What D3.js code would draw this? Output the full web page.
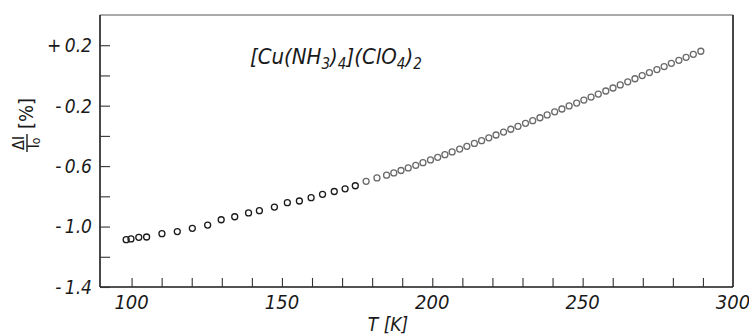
<!DOCTYPE html>
<html>
<head>
<meta charset="utf-8">
<script src="https://cdn.jsdelivr.net/npm/d3@7"></script>
<style>
  html, body { margin: 0; padding: 0; background: #fff; }
  svg { display: block; }
  .lbl { font-family: "Liberation Sans Narrow", "DejaVu Sans Condensed", "Liberation Sans", sans-serif; font-style: italic; fill: #1a1a1a; }
  .up { font-style: normal; }
</style>
</head>
<body>
<script>
// ---- data ----
const temperatures = [
  98.2, 99.8, 102.4, 105.0, 110.1, 115.2, 120.2, 125.3, 129.8, 134.3, 138.9,
  142.5, 147.5, 151.8, 155.8, 159.7, 163.5, 167.4, 171.0, 174.4, 178.0, 181.6,
  184.8, 187.2, 189.6, 192.0, 194.5, 196.9, 199.4, 201.8, 204.2, 206.6, 209.1,
  211.5, 214.0, 216.4, 218.8, 221.2, 223.7, 226.1, 228.5, 231.0, 233.4, 235.8,
  238.2, 240.7, 243.1, 245.5, 248.0, 250.4, 252.8, 255.2, 257.7, 260.1, 262.5,
  265.0, 267.4, 269.8, 272.2, 274.7, 277.1, 279.5, 282.0, 284.4, 286.8, 289.3
];
const expansion = [
  -1.087, -1.082, -1.071, -1.069, -1.047, -1.033, -1.012, -0.990, -0.955, -0.935, -0.910,
  -0.895, -0.871, -0.842, -0.831, -0.809, -0.787, -0.768, -0.750, -0.730, -0.701, -0.678,
  -0.660, -0.645, -0.629, -0.612, -0.595, -0.577, -0.559, -0.542, -0.524, -0.506, -0.487,
  -0.469, -0.450, -0.432, -0.413, -0.394, -0.375, -0.356, -0.337, -0.317, -0.299, -0.280,
  -0.261, -0.241, -0.222, -0.202, -0.183, -0.163, -0.143, -0.123, -0.103, -0.083, -0.063,
  -0.042, -0.022, -0.001, 0.019, 0.039, 0.059, 0.080, 0.100, 0.120, 0.140, 0.160
];
const xTickValues = [100, 110, 120, 130, 140, 150, 160, 170, 180, 190, 200, 210, 220, 230, 240, 250, 260, 270, 280, 290];
const xLabelValues = [100, 150, 200, 250, 300];
const yTickValues = [0.2, 0.0, -0.2, -0.4, -0.6, -0.8, -1.0, -1.2, -1.4];
const yLabelValues = [0.2, -0.2, -0.6, -1.0, -1.4];
const yLabelTexts = ["+\u20090.2", "-\u20090.2", "-\u20090.6", "-\u20091.0", "-\u20091.4"];
const xAxisTitle = "T [K]";

(function () {
// ---- layout ----
const W = 749, H = 335;
const pL = 100, pR = 733, pT = 15, pB = 287;

const svg = d3.select("body").append("svg").attr("width", W).attr("height", H);

const x = d3.scaleLinear().domain([89.5, 300]).range([pL, pR]);
const y = d3.scaleLinear().domain([-1.4, 0.4]).range([pB, pT]);

// frame
svg.append("line").attr("x1", pL).attr("x2", pR).attr("y1", pT).attr("y2", pT)
  .attr("stroke", "#555").attr("stroke-width", 1.2);
svg.append("line").attr("x1", pR).attr("x2", pR).attr("y1", pT).attr("y2", pB)
  .attr("stroke", "#333").attr("stroke-width", 1.8);

// x axis (ticks inward)
const xAxis = d3.axisBottom(x).tickValues(xTickValues).tickSize(-9).tickFormat("");
const gx = svg.append("g").attr("transform", `translate(0,${pB})`).call(xAxis);
gx.select(".domain").attr("stroke", "#1a1a1a").attr("stroke-width", 1.6).attr("d", `M${pL},0H${pR}`);
gx.selectAll(".tick line").attr("stroke", "#333").attr("stroke-width", 1.1);

svg.append("g").selectAll("text").data(xLabelValues).join("text")
  .attr("class", "lbl").attr("x", d => x(d)).attr("y", 309)
  .attr("text-anchor", "middle").attr("font-size", 20).text(d => d);

svg.append("text").attr("class", "lbl").attr("x", 388).attr("y", 331)
  .attr("text-anchor", "middle").attr("font-size", 19).text(xAxisTitle);

// y axis (ticks inward)
const yAxis = d3.axisLeft(y).tickValues(yTickValues).tickSize(-10).tickFormat("");
const gy = svg.append("g").attr("transform", `translate(${pL},0)`).call(yAxis);
gy.select(".domain").attr("stroke", "#1a1a1a").attr("stroke-width", 1.6).attr("d", `M0,${pT}V${pB}`);
gy.selectAll(".tick line").attr("stroke", "#333").attr("stroke-width", 1.1);

svg.append("g").selectAll("text").data(yLabelValues).join("text")
  .attr("class", "lbl").attr("x", 92).attr("y", d => y(d)).attr("dy", "0.36em")
  .attr("text-anchor", "end").attr("font-size", 19)
  .text((d, i) => yLabelTexts[i]);

// y axis title: fraction Δl / l0 then [%], rotated
const yt = svg.append("g").attr("transform", "translate(27,131) rotate(-90)");
yt.append("text").attr("class", "lbl up").attr("x", -12).attr("y", -3)
  .attr("text-anchor", "middle").attr("font-size", 16).text("Δl");
yt.append("line").attr("x1", -21).attr("x2", -3).attr("y1", 0).attr("y2", 0)
  .attr("stroke", "#1a1a1a").attr("stroke-width", 1.4);
const lo = yt.append("text").attr("class", "lbl up").attr("x", -12).attr("y", 12)
  .attr("text-anchor", "middle").attr("font-size", 16);
lo.append("tspan").text("l");
lo.append("tspan").attr("font-size", 12).attr("dy", 1).text("o");
yt.append("text").attr("class", "lbl up").attr("x", 2).attr("y", 6)
  .attr("text-anchor", "start").attr("font-size", 20).text("[%]");

// compound title
const t = svg.append("text").attr("class", "lbl").attr("x", 250).attr("y", 64).attr("font-size", 22);
const parts = [["[Cu(NH", 0], ["3", 1], [")", 0], ["4", 1], ["](ClO", 0], ["4", 1], [")", 0], ["2", 1]];
let shifted = false;
parts.forEach(([s, sub]) => {
  const ts = t.append("tspan").text(s);
  if (sub) { ts.attr("font-size", 15).attr("dy", shifted ? 0 : 5); shifted = true; }
  else { ts.attr("dy", shifted ? -5 : 0); shifted = false; }
});

// data points
const pts = temperatures.map((T, i) => ({ T, v: expansion[i] }));
svg.append("g").selectAll("circle").data(pts).join("circle")
  .attr("cx", d => x(d.T)).attr("cy", d => y(d.v)).attr("r", 3)
  .attr("fill", "none")
  .attr("stroke", d => d.T < 177 ? "#1a1a1a" : "#6a6a6a")
  .attr("stroke-width", 1.3);
})();
</script>
</body>
</html>
